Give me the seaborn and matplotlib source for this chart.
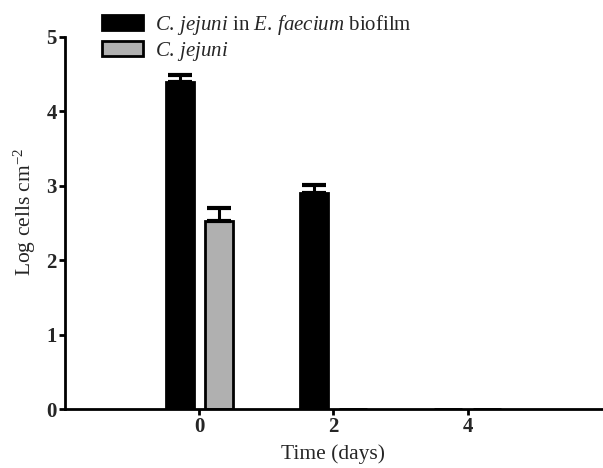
import numpy as np
import pandas as pd
import matplotlib
matplotlib.use("Agg")
import matplotlib.pyplot as plt
import seaborn as sns
from matplotlib.patches import Patch

# ---- data ----
days = [0, 2, 4]
series_names = ["C. jejuni in E. faecium biofilm", "C. jejuni"]
biofilm_vals = [4.40, 2.90, 0.0]
planktonic_vals = [2.53, 0.0, 0.0]
biofilm_err = [0.09, 0.11, 0.0]
planktonic_err = [0.17, 0.0, 0.0]
legend_labels = [r"$\it{C.\,jejuni}$ in $\it{E.\,faecium}$ biofilm",
                 r"$\it{C.\,jejuni}$"]
colors = ["#000000", "#b0b0b0"]
x_ticks = [0, 2, 4]
y_ticks = [0, 1, 2, 3, 4, 5]

sns.set_theme(style="ticks")
plt.rcParams["font.family"] = ["Liberation Serif", "DejaVu Serif"]
plt.rcParams["mathtext.fontset"] = "custom"
plt.rcParams["mathtext.rm"] = "Liberation Serif"
plt.rcParams["mathtext.it"] = "Liberation Serif:italic"
plt.rcParams["mathtext.bf"] = "Liberation Serif:bold"

df = pd.DataFrame({
    "day": days * 2,
    "value": biofilm_vals + planktonic_vals,
    "series": [series_names[0]] * len(days) + [series_names[1]] * len(days),
})
errs = [biofilm_err, planktonic_err]

fig = plt.figure(figsize=(6.03, 4.68), dpi=100)
ax = fig.add_axes([0.108, 0.126, 0.89, 0.795])

sns.barplot(data=df, x="day", y="value", hue="series", hue_order=series_names,
            palette=colors, native_scale=True, width=0.58, gap=0.28,
            errorbar=None, edgecolor="black", linewidth=2, legend=False, ax=ax)

for cont, err in zip(ax.containers, errs):
    for bar, e in zip(cont.patches, err):
        if e > 0:
            xc = bar.get_x() + bar.get_width() / 2
            ax.errorbar(xc, bar.get_height(), yerr=[[0], [e]], fmt="none",
                        ecolor="black", elinewidth=2.2, capsize=8.5, capthick=3, zorder=1)

ax.set_xlim(-2, 6)
ax.set_ylim(0, 5)
ax.set_xticks(x_ticks)
ax.set_xticklabels([str(t) for t in x_ticks])
ax.set_yticks(y_ticks)
ax.set_yticklabels([str(t) for t in y_ticks])
for lab in ax.get_xticklabels() + ax.get_yticklabels():
    lab.set_fontsize(15)
    lab.set_fontweight("bold")
ax.tick_params(axis="both", direction="out", length=4, width=2, color="black", pad=2)
for s in ["top", "right"]:
    ax.spines[s].set_visible(False)
for s in ["left", "bottom"]:
    ax.spines[s].set_linewidth(2)
    ax.spines[s].set_color("black")

ax.set_xlabel("Time (days)", fontsize=15.5)
ax.set_ylabel(r"Log cells cm$^{-2}$", fontsize=15.5)
ax.xaxis.set_label_coords(0.5, -0.095)
ax.yaxis.set_label_coords(-0.05, 0.53)

handles = [Patch(facecolor=c, edgecolor="black", linewidth=2) for c in colors]
fig.legend(handles, legend_labels, loc="upper left", bbox_to_anchor=(0.148, 1.0),
           frameon=False, fontsize=15, handlelength=2.0, handleheight=0.7,
           handletextpad=0.55, labelspacing=0.15, borderaxespad=0.2)

fig.savefig("out.png", dpi=100)
